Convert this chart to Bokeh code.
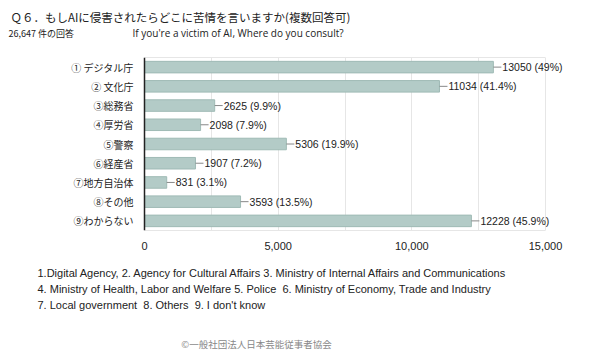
from bokeh.plotting import figure
from bokeh.layouts import column
from bokeh.models import LabelSet, FactorRange, FixedTicker, NumeralTickFormatter, ColumnDataSource, Range1d, LinearAxis, Span
from bokeh.core.properties import value
from bokeh.embed import file_html
from bokeh.resources import INLINE

categories = ["① デジタル庁", "② 文化庁", "③総務省", "④厚労省", "⑤警察", "⑥経産省", "⑦地方自治体", "⑧その他", "⑨わからない"]
counts = [13050, 11034, 2625, 2098, 5306, 1907, 831, 3593, 12228]
percents = ["49%", "41.4%", "9.9%", "7.9%", "19.9%", "7.2%", "3.1%", "13.5%", "45.9%"]
x_ticks = [0, 5000, 10000, 15000]
grid_ticks = [0, 2500, 5000, 7500, 10000, 12500, 15000]

title_jp = "Ｑ６．もしAIに侵害されたらどこに苦情を言いますか(複数回答可)"
responses = "26,647 件の回答"
title_en = "If you're a victim of AI, Where do you consult?"
notes = [
    "1.Digital Agency, 2. Agency for Cultural Affairs 3. Ministry of Internal Affairs and Communications",
    "4. Ministry of Health, Labor and Welfare 5. Police\u00a0 6. Ministry of Economy, Trade and Industry",
    "7. Local government\u00a0 8. Others\u00a0 9. I don't know",
]
credit = "©一般社団法人日本芸能従事者協会"

JP = "Noto Sans CJK JP"
SANS = "Liberation Sans"

W = 600
TOP_H, MAIN_H, BOT_H = 50, 205, 100
LEFT = 144            # pixel position of the value axis origin
X_MAX = 15000
px_per_unit = 401 / X_MAX
lead = 8 / px_per_unit


def text_fig(h, y0):
    f = figure(width=W, height=h, output_backend="svg", toolbar_location=None,
               x_range=Range1d(0, W), y_range=Range1d(y0 + h, y0),
               x_axis_type=None, y_axis_type=None, min_border=0)
    f.outline_line_color = None
    f.xgrid.grid_line_color = None
    f.ygrid.grid_line_color = None
    return f


def put(f, text, x, y, size, font, color="#222222", align="left"):
    f.text(x=[x], y=[y], text=[text], text_font=value(font), text_font_size=size,
           text_color=color, text_baseline="middle", text_align=align)


# ---- header ----
top = text_fig(TOP_H, 0)
put(top, title_jp, 10, 16, "11.5px", JP)
put(top, responses, 8, 33, "9px", JP)
put(top, title_en, 132, 32, "10px", "Open Sans")

# ---- main chart ----
src = ColumnDataSource(dict(
    cat=categories,
    val=counts,
    lead_end=[v + lead for v in counts],
    label=[f"{v} ({p})" for v, p in zip(counts, percents)],
    zero=[0] * len(categories),
))

p = figure(width=W, height=MAIN_H, output_backend="svg", toolbar_location=None,
           y_range=FactorRange(factors=categories[::-1]),
           x_range=Range1d(-LEFT / px_per_unit, (W - LEFT) / px_per_unit),
           x_axis_location=None, y_axis_location=None,
           min_border_left=0, min_border_right=0,
           min_border_top=7, min_border_bottom=25)
p.background_fill_color = "white"
p.border_fill_color = "white"
p.outline_line_color = None

p.ygrid.grid_line_color = None
p.xgrid.ticker = FixedTicker(ticks=grid_ticks)
p.xgrid.grid_line_color = "#e6e6e6"

p.hbar(y="cat", right="val", left=0, height=0.6, source=src,
       fill_color="#b3cbc7", line_color="#9fbab5", line_width=1)
p.segment(x0="val", x1="lead_end", y0="cat", y1="cat", source=src,
          line_color="#888888", line_width=1)
p.add_layout(LabelSet(x="lead_end", y="cat", text="label", source=src, x_offset=1,
       text_baseline="middle", text_align="left", text_font=value(SANS),
       text_font_size="10.5px", text_color="#222222"))
# category axis labels
p.add_layout(LabelSet(x="zero", y="cat", text="cat", source=src, x_offset=-11,
       text_baseline="middle", text_align="right", text_font=value(JP),
       text_font_size="10px", text_color="#222222"))
p.add_layout(Span(location=0, dimension="height", line_color="#222222", line_width=1.5))

xa = LinearAxis(ticker=FixedTicker(ticks=x_ticks), formatter=NumeralTickFormatter(format="0,0"),
                bounds=(0, X_MAX))
xa.axis_line_color = "#e6e6e6"
xa.major_tick_line_color = None
xa.minor_tick_line_color = None
xa.major_label_text_font = SANS
xa.major_label_text_font_size = "11px"
xa.major_label_text_color = "#222222"
xa.major_label_standoff = 5
p.add_layout(xa, "below")

ta = LinearAxis(ticker=FixedTicker(ticks=[]), bounds=(0, X_MAX))
ta.axis_line_color = "#e6e6e6"
ta.major_tick_line_color = None
ta.minor_tick_line_color = None
ta.major_label_text_font_size = "0px"
ta.major_label_standoff = 0
p.add_layout(ta, "above")

# ---- footer ----
bot = text_fig(BOT_H, 255)
for i, line in enumerate(notes):
    put(bot, line, 37, 272 + i * 16, "11px", SANS)
put(bot, credit, 256, 343, "9.5px", JP, color="#888888", align="center")

open("out.html", "w").write(file_html(column(top, p, bot), INLINE))
